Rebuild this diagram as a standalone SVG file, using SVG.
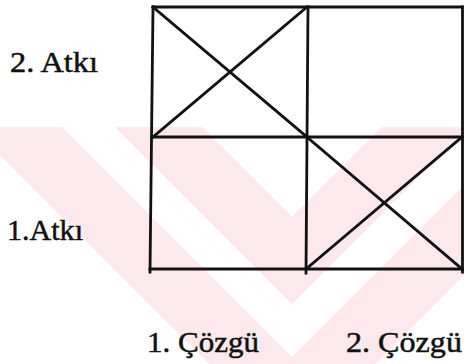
<svg xmlns="http://www.w3.org/2000/svg" width="464" height="364" viewBox="0 0 464 364">
  <defs>
    <style>
      .wm { fill: #fde9ed; }
      .ln { stroke: #111; stroke-width: 2.8; stroke-linecap: square; fill: none; }
      .lbl { font-family: "Liberation Serif", "Times New Roman", serif; font-size: 30px; fill: #111; stroke: #111; stroke-width: 0.5; }
    </style>
    <clipPath id="wmclip"><rect x="0" y="127" width="464" height="237"/></clipPath>
  </defs>
  <rect width="464" height="364" fill="#fff"/>
  <g id="watermark" clip-path="url(#wmclip)">
    <polygon class="wm" points="115,127 202,127 292,217 382,127 469,127 292,304"/>
    <polygon class="wm" points="-28,127 62,127 292,357 522,127 612,127 292,447"/>
  </g>
  <g id="cell-2-1">
    <line class="ln" x1="153" y1="7" x2="307" y2="137"/>
    <line class="ln" x1="307" y1="7" x2="153" y2="137"/>
  </g>
  <g id="cell-1-2">
    <line class="ln" x1="307" y1="137" x2="462" y2="269"/>
    <line class="ln" x1="306" y1="269" x2="462" y2="137"/>
  </g>
  <g id="grid">
    <line class="ln" x1="153" y1="7" x2="462" y2="7"/>
    <line class="ln" x1="152" y1="137" x2="462" y2="137"/>
    <line class="ln" x1="150" y1="269" x2="462" y2="269"/>
    <line class="ln" x1="153" y1="7" x2="150" y2="272"/>
    <line class="ln" x1="308" y1="7" x2="306" y2="273"/>
    <line class="ln" x1="462.5" y1="7" x2="462.5" y2="272"/>
  </g>
  <g id="labels">
    <text class="lbl" x="10" y="72" textLength="88" lengthAdjust="spacingAndGlyphs">2. Atkı</text>
    <text class="lbl" x="7" y="240" textLength="76" lengthAdjust="spacingAndGlyphs">1.Atkı</text>
    <text class="lbl" x="147" y="352" textLength="112" lengthAdjust="spacingAndGlyphs">1. Çözgü</text>
    <text class="lbl" x="346" y="352" textLength="116" lengthAdjust="spacingAndGlyphs">2. Çözgü</text>
  </g>
</svg>
